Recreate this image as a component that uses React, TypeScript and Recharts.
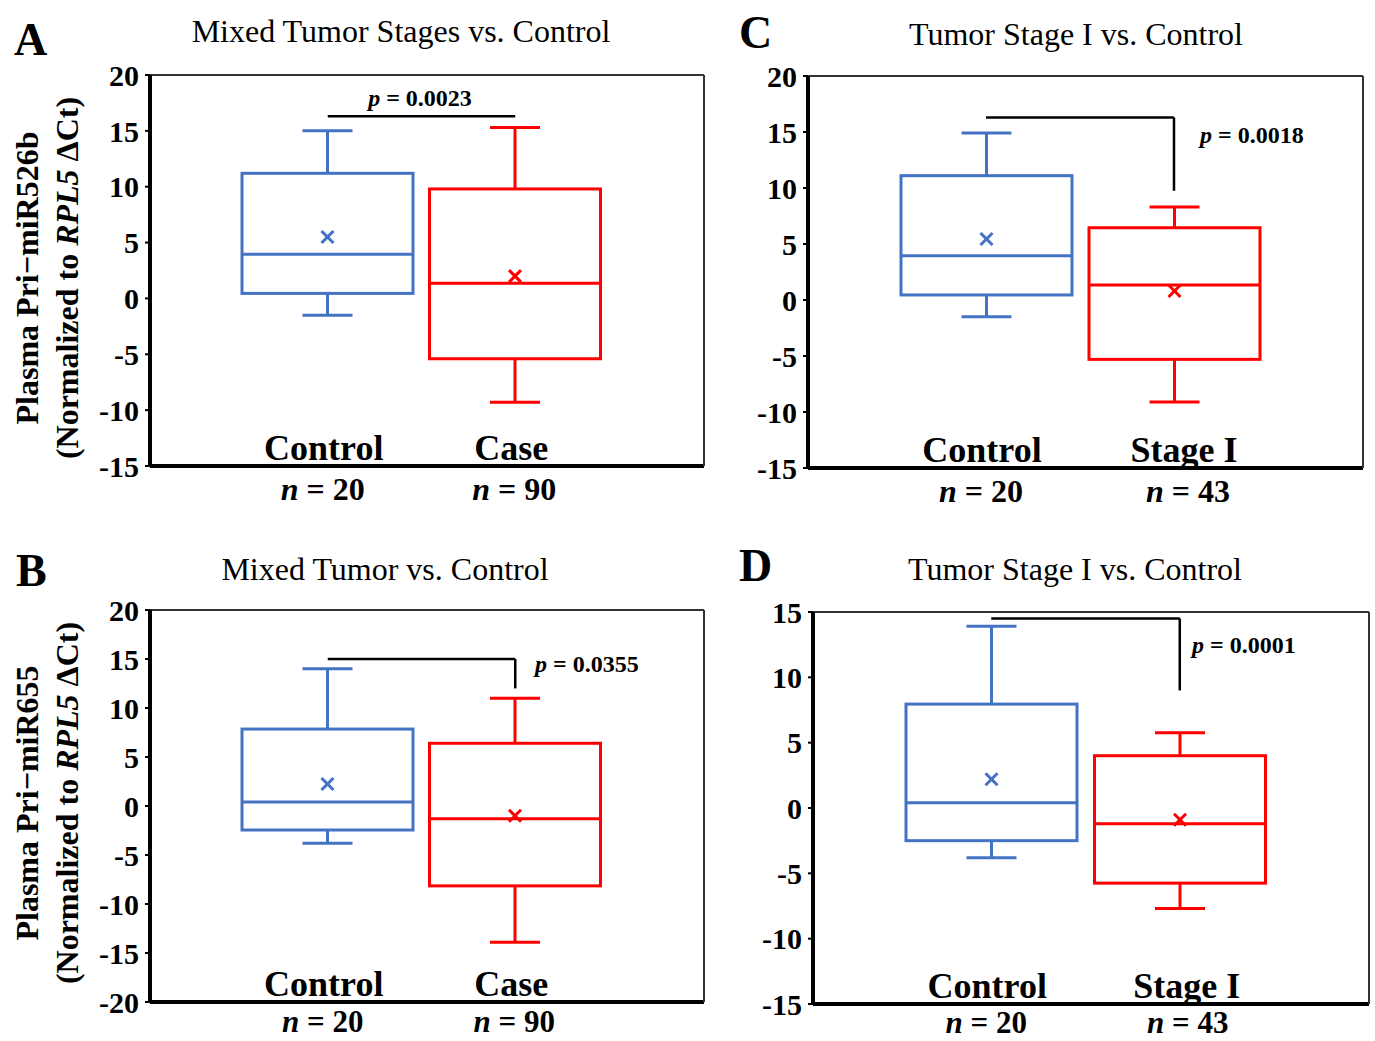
import React from 'react';
import { ComposedChart, Bar, XAxis, YAxis, ReferenceLine, Cell } from 'recharts';

const FONT = '"Liberation Serif", "Times New Roman", Times, serif';
const BLUE = '#4472C4';
const RED = '#FF0000';

// ---------- Panel A: Pri-miR526b, mixed stages ----------
const groupsA = ['Control', 'Case'];
const nA = [20, 90];
const minA = [-1.5, -9.3];
const q1A = [0.45, -5.4];
const medianA = [3.95, 1.35];
const meanA = [5.5, 2.0];
const q3A = [11.2, 9.8];
const maxA = [15.0, 15.3];
const ticksA = [20, 15, 10, 5, 0, -5, -10, -15];
const bracketYA = 16.3;
const bracketEndA: number | null = null;

// ---------- Panel B: Pri-miR655, mixed ----------
const groupsB = ['Control', 'Case'];
const nB = [20, 90];
const minB = [-3.8, -13.9];
const q1B = [-2.45, -8.15];
const medianB = [0.4, -1.3];
const meanB = [2.25, -1.0];
const q3B = [7.85, 6.4];
const maxB = [14.0, 11.0];
const ticksB = [20, 15, 10, 5, 0, -5, -10, -15, -20];
const bracketYB = 15.0;
const bracketEndB: number | null = 12.0;

// ---------- Panel C: Pri-miR526b, stage I ----------
const groupsC = ['Control', 'Stage I'];
const nC = [20, 43];
const minC = [-1.5, -9.1];
const q1C = [0.45, -5.3];
const medianC = [3.95, 1.35];
const meanC = [5.45, 0.8];
const q3C = [11.1, 6.45];
const maxC = [14.9, 8.3];
const ticksC = [20, 15, 10, 5, 0, -5, -10, -15];
const bracketYC = 16.3;
const bracketEndC: number | null = 9.75;

// ---------- Panel D: Pri-miR655, stage I ----------
const groupsD = ['Control', 'Stage I'];
const nD = [20, 43];
const minD = [-3.8, -7.7];
const q1D = [-2.5, -5.75];
const medianD = [0.4, -1.2];
const meanD = [2.2, -0.9];
const q3D = [7.95, 4.0];
const maxD = [13.9, 5.75];
const ticksD = [15, 10, 5, 0, -5, -10, -15];
const bracketYD = 14.5;
const bracketEndD: number | null = 9.0;

const buildRows = (
  g: string[], mn: number[], q1: number[], md: number[], mean: number[], q3: number[], mx: number[]
) => g.map((name, i) => ({ name, min: mn[i], q1: q1[i], median: md[i], mean: mean[i], q3: q3[i], max: mx[i] }));

const BoxShape = (props: any) => {
  const { x, y, width, height, payload, fill } = props;
  const color = fill || BLUE;
  const top = Math.min(y, y + height);
  const h = Math.abs(height);
  const k = h / (payload.q3 - payload.q1);
  const Y = (v: number) => top + (payload.q3 - v) * k;
  const cx = x + width / 2;
  const cap = 25;
  const m = 6;
  const sw = 3;
  const ym = Y(payload.mean);
  return (
    <g>
      <line x1={cx} x2={cx} y1={Y(payload.max)} y2={top} stroke={color} strokeWidth={sw} />
      <line x1={cx - cap} x2={cx + cap} y1={Y(payload.max)} y2={Y(payload.max)} stroke={color} strokeWidth={sw} />
      <line x1={cx} x2={cx} y1={top + h} y2={Y(payload.min)} stroke={color} strokeWidth={sw} />
      <line x1={cx - cap} x2={cx + cap} y1={Y(payload.min)} y2={Y(payload.min)} stroke={color} strokeWidth={sw} />
      <rect x={x} y={top} width={width} height={h} fill="none" stroke={color} strokeWidth={sw} />
      <line x1={x} x2={x + width} y1={Y(payload.median)} y2={Y(payload.median)} stroke={color} strokeWidth={sw} />
      <line x1={cx - m} x2={cx + m} y1={ym - m} y2={ym + m} stroke={color} strokeWidth={3} />
      <line x1={cx - m} x2={cx + m} y1={ym + m} y2={ym - m} stroke={color} strokeWidth={3} />
    </g>
  );
};

const makeCatTick = (nList: number[], nOffset: number, nSize: number, shiftCat: number, shiftN: number) => (props: any) => {
  const { x, y, payload, index } = props;
  const sc = index === 1 ? shiftCat : 0;
  const sn = index === 1 ? shiftN : 0;
  return (
    <g>
      <text x={x - 4 + sc} y={y - 6} textAnchor="middle" fontFamily={FONT} fontSize={36} fontWeight="bold" fill="#000">
        {payload.value}
      </text>
      <text x={x - 5 + sn} y={y + nOffset} textAnchor="middle" fontFamily={FONT} fontSize={nSize} fontWeight="bold" fill="#000">
        <tspan fontStyle="italic">n</tspan>
        {' = ' + nList[index]}
      </text>
    </g>
  );
};

type PanelProps = {
  left: number; top: number; width: number; height: number;
  margin: { top: number; right: number; bottom: number; left: number };
  xHeight: number; nOffset: number; nSize: number; shiftCat: number; shiftN: number;
  rows: any[]; ticks: number[]; domain: [number, number];
  n: number[]; bracketY: number; bracketEnd: number | null;
};

const Panel = (p: PanelProps) => {
  const g0 = p.rows[0].name;
  const g1 = p.rows[1].name;
  return (
    <div style={{ position: 'absolute', left: p.left, top: p.top, width: p.width, height: p.height }}>
      <ComposedChart width={p.width} height={p.height} data={p.rows} margin={p.margin}>
        <XAxis
          dataKey="name"
          xAxisId={0}
          padding={{ left: 84, right: 95 }}
          height={p.xHeight}
          axisLine={{ stroke: '#000', strokeWidth: 4 }}
          tickLine={false}
          tickSize={0}
          tickMargin={0}
          tick={makeCatTick(p.n, p.nOffset, p.nSize, p.shiftCat, p.shiftN)}
          interval={0}
        />
        <XAxis
          dataKey="name"
          xAxisId="top"
          orientation="top"
          height={1}
          tick={false}
          tickLine={false}
          axisLine={{ stroke: '#333', strokeWidth: 2 }}
        />
        <YAxis
          yAxisId={0}
          type="number"
          domain={p.domain}
          ticks={p.ticks}
          interval={0}
          width={60}
          axisLine={{ stroke: '#000', strokeWidth: 4 }}
          tickLine={{ stroke: '#000', strokeWidth: 2 }}
          tickSize={5}
          tickMargin={6}
          tick={{ fontFamily: FONT, fontSize: 30, fontWeight: 'bold', fill: '#000' }}
        />
        <YAxis
          yAxisId="r"
          orientation="right"
          type="number"
          domain={[0, 1]}
          width={1}
          tick={false}
          tickLine={false}
          axisLine={{ stroke: '#333', strokeWidth: 2 }}
        />
        <Bar
          xAxisId={0}
          yAxisId={0}
          dataKey={(d: any) => [d.q1, d.q3]}
          barSize={171}
          isAnimationActive={false}
          shape={BoxShape}
        >
          <Cell fill={BLUE} />
          <Cell fill={RED} />
        </Bar>
        <ReferenceLine
          xAxisId={0}
          yAxisId={0}
          segment={[{ x: g0, y: p.bracketY }, { x: g1, y: p.bracketY }]}
          stroke="#000"
          strokeWidth={2.5}
        />
        {p.bracketEnd !== null && (
          <ReferenceLine
            xAxisId={0}
            yAxisId={0}
            segment={[{ x: g1, y: p.bracketY }, { x: g1, y: p.bracketEnd }]}
            stroke="#000"
            strokeWidth={2.5}
          />
        )}
      </ComposedChart>
    </div>
  );
};

const PText = ({ x, y, value, anchor }: { x: number; y: number; value: string; anchor: string }) => (
  <text x={x} y={y} textAnchor={anchor as any} fontFamily={FONT} fontSize={24} fontWeight="bold" fill="#000">
    <tspan fontStyle="italic">p</tspan>
    {' = ' + value}
  </text>
);

const YLabel = ({ cy, line1 }: { cy: number; line1: string }) => (
  <g fontFamily={FONT} fontSize={32} fontWeight="bold" fill="#000">
    <text x={38} y={cy} textAnchor="middle" transform={`rotate(-90, 38, ${cy})`}>{line1}</text>
    <text x={78} y={cy} textAnchor="middle" transform={`rotate(-90, 78, ${cy})`}>
      (Normalized to <tspan fontStyle="italic">RPL5</tspan> ΔCt)
    </text>
  </g>
);

export default function App() {
  const rowsA = buildRows(groupsA, minA, q1A, medianA, meanA, q3A, maxA);
  const rowsB = buildRows(groupsB, minB, q1B, medianB, meanB, q3B, maxB);
  const rowsC = buildRows(groupsC, minC, q1C, medianC, meanC, q3C, maxC);
  const rowsD = buildRows(groupsD, minD, q1D, medianD, meanD, q3D, maxD);
  return (
    <div style={{ position: 'absolute', left: 0, top: 0, width: 1375, height: 1041, background: '#fff', overflow: 'hidden' }}>
      <Panel left={0} top={0} width={720} height={530}
        margin={{ top: 74, right: 15, bottom: 14, left: 90 }} xHeight={50} nOffset={34} nSize={32} shiftCat={0} shiftN={4}
        rows={rowsA} ticks={ticksA} domain={[-15, 20]} n={nA} bracketY={bracketYA} bracketEnd={bracketEndA} />
      <Panel left={0} top={530} width={720} height={511}
        margin={{ top: 79, right: 15, bottom: 4, left: 90 }} xHeight={35} nOffset={30} nSize={31} shiftCat={0} shiftN={4}
        rows={rowsB} ticks={ticksB} domain={[-20, 20]} n={nB} bracketY={bracketYB} bracketEnd={bracketEndB} />
      <Panel left={660} top={0} width={715} height={530}
        margin={{ top: 75, right: 11, bottom: 12, left: 88 }} xHeight={50} nOffset={34} nSize={32} shiftCat={14} shiftN={19}
        rows={rowsC} ticks={ticksC} domain={[-15, 20]} n={nC} bracketY={bracketYC} bracketEnd={bracketEndC} />
      <Panel left={660} top={530} width={715} height={511}
        margin={{ top: 81, right: 5, bottom: 2, left: 93 }} xHeight={35} nOffset={29} nSize={31} shiftCat={11} shiftN={13}
        rows={rowsD} ticks={ticksD} domain={[-15, 15]} n={nD} bracketY={bracketYD} bracketEnd={bracketEndD} />
      <svg width={1375} height={1041} style={{ position: 'absolute', left: 0, top: 0, pointerEvents: 'none' }}>
        <g fontFamily={FONT} fontWeight="bold" fontSize={46} fill="#000">
          <text x={14} y={55}>A</text>
          <text x={16} y={586}>B</text>
          <text x={739} y={48}>C</text>
          <text x={739} y={581}>D</text>
        </g>
        <g fontFamily={FONT} fontSize={32} fill="#000" textAnchor="middle">
          <text x={401} y={42}>Mixed Tumor Stages vs. Control</text>
          <text x={385} y={580}>Mixed Tumor vs. Control</text>
          <text x={1076} y={45}>Tumor Stage I vs. Control</text>
          <text x={1075} y={580}>Tumor Stage I vs. Control</text>
        </g>
        <YLabel cy={278} line1="Plasma  Pri−miR526b" />
        <YLabel cy={803} line1="Plasma  Pri−miR655" />
        <PText x={420} y={106} value="0.0023" anchor="middle" />
        <PText x={535} y={672} value="0.0355" anchor="start" />
        <PText x={1200} y={143} value="0.0018" anchor="start" />
        <PText x={1192} y={653} value="0.0001" anchor="start" />
      </svg>
    </div>
  );
}
